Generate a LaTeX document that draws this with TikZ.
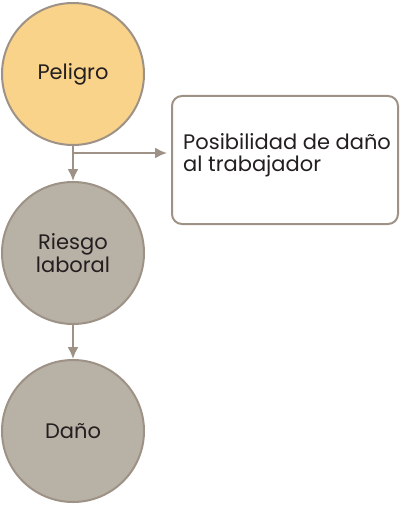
\documentclass[tikz,border=0pt]{standalone}
\usepackage{fontspec}
\setmainfont{Poppins}
\usepackage{tikz}
\usetikzlibrary{arrows.meta,positioning,calc}
\definecolor{Borde}{HTML}{9E9286}
\definecolor{Naranja}{HTML}{FAD38A}
\definecolor{Gris}{HTML}{B8B1A6}
\definecolor{Texto}{HTML}{231F20}
\tikzset{
  circulo/.style={circle, draw=Borde, line width=2pt, minimum size=142pt, inner sep=0pt, align=center, text=Texto, font=\fontsize{21}{23}\selectfont},
  flecha/.style={->, draw=Borde, line width=2pt},
}
\begin{document}
\begin{tikzpicture}[x=1pt, y=1pt, >={Latex[length=12pt,width=11pt]}]
    \useasboundingbox (0,0) rectangle (400,-505);
    \node[circulo, fill=Naranja] (peligro) at (73,-74) {Peligro};
    \node[circulo, fill=Gris, below=35pt of peligro] (riesgo) {Riesgo\\laboral};
    \node[circulo, fill=Gris, below=34pt of riesgo] (dano) {Daño};
    \node[draw=Borde, line width=2pt, rounded corners=10pt, minimum width=226pt, minimum height=128pt, anchor=north west] (caja) at (171,-95) {};
    \node[anchor=north west, align=left, inner sep=0pt, text=Texto, font=\fontsize{21}{22.5}\selectfont] (posib) at ($(caja.north west)+(12,-38)$) {Posibilidad de daño\\al trabajador};
    \coordinate (rama) at ($(peligro.south)+(0,-7)$);
    \draw[flecha] (peligro.south) -- (riesgo.north);
    \draw[flecha, shorten >=4pt] (rama) -- (rama -| caja.west);
    \draw[flecha] (riesgo.south) -- (dano.north);
  \end{tikzpicture}
\end{document}
